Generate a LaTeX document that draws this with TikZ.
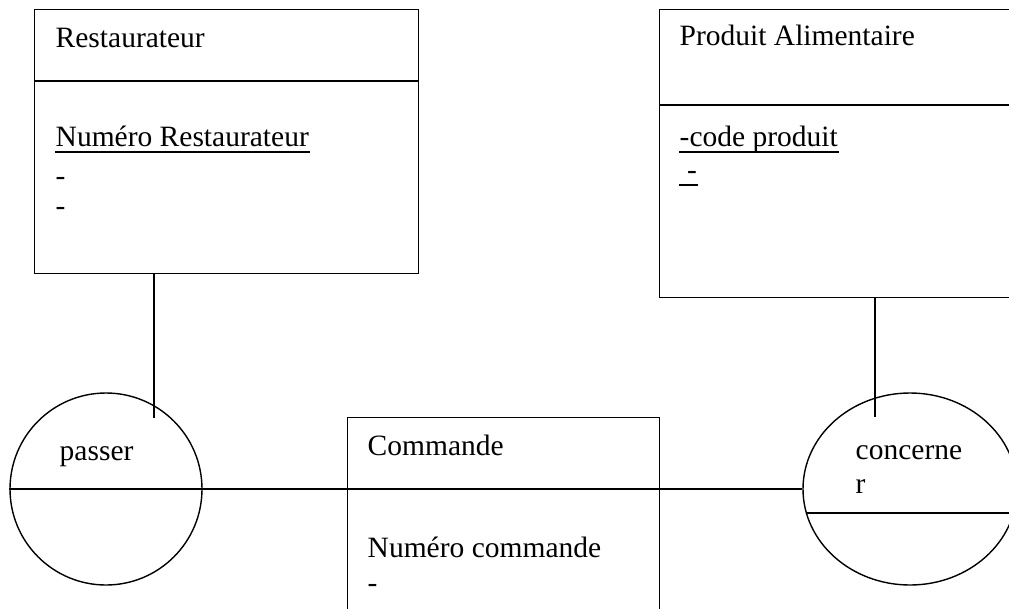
\documentclass[tikz,border=0pt]{standalone}
\usepackage{fontspec}
\setmainfont{Liberation Serif}
\usetikzlibrary{shapes.geometric}
\begin{document}
\begin{tikzpicture}[x=1pt, y=-1pt, line width=1.4pt,
    every node/.style={inner sep=0pt, font=\fontsize{29.5}{34}\selectfont},
    box/.style={draw, rectangle, anchor=north west},
    txt/.style={anchor=base west},
    souligne/.style={line width=1.6pt}]
      \clip (0,0) rectangle (1009,608);
      \fill[white] (0,0) rectangle (1009,608);
      % entites
      \node (resto) at (34,9) [box, minimum width=384, minimum height=264] {};
      \node (prod) at (659,9) [box, minimum width=400, minimum height=288] {};
      \node (cmd) at (347,417) [box, minimum width=312, minimum height=250] {};
      \draw (34,81) -- (418,81);
      \draw (659,105) -- (1009,105);
      % associations
      \node (passer) at (106,489) [circle, draw, minimum size=192] {};
      \node (conc) at (910,489) [ellipse, draw, minimum width=214, minimum height=192] {};
      \draw (passer.west) -- (passer.east);
      \draw (806,513) -- (1009,513);
      % textes
      \node (t1) at (55,47) [txt] {Restaurateur};
      \node (t2) at (55,146) [txt] {Numéro Restaurateur};
      \node (t3) at (55,185) [txt] {-};
      \node (t4) at (55,215) [txt] {-};
      \node (t5) at (679,45) [txt] {Produit Alimentaire};
      \node (t6) at (679,146) [txt] {-code produit};
      \node (t7) at (679,179) [txt] {\ -};
      \node (t8) at (59,460) [txt] {passer};
      \node (t9) at (367,455) [txt] {Commande};
      \node (t10) at (367,557) [txt] {Numéro commande};
      \node (t11) at (367,592) [txt] {-};
      \node (t12) at (855,459) [txt] {concerne};
      \node (t13) at (855,493) [txt] {r};
      \foreach \t in {t2, t6, t7}
        \draw[souligne] ([yshift=-6pt]\t.base west) -- ([yshift=-6pt]\t.base east);
      % liens
      \coordinate (rend) at (154,418);
      \coordinate (pend) at (875,417);
      \coordinate (cmdl) at (347,489);
      \coordinate (cmdr) at (659,489);
      \foreach \source/\dest in {resto.south -| rend/rend, prod.south -| pend/pend, passer.east/cmdl, cmdl/cmdr, cmdr/conc.west}
        \path (\source) edge (\dest);
    \end{tikzpicture}
\end{document}
